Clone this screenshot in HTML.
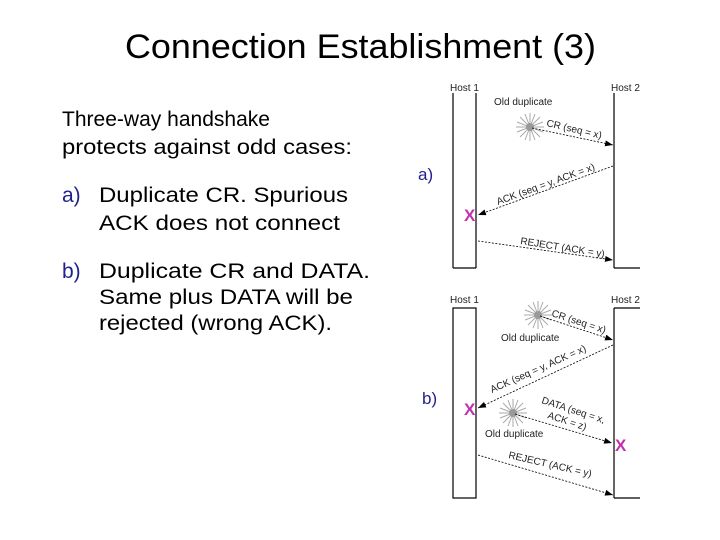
<!DOCTYPE html>
<html><head><meta charset="utf-8"><style>
html,body{margin:0;padding:0;background:#fff;}
svg{display:block;font-family:"Liberation Sans",Arial,sans-serif;}
</style></head><body>
<svg width="720" height="540" viewBox="0 0 720 540">
<defs>
<marker id="ah" markerWidth="8" markerHeight="6" refX="8" refY="3" orient="auto" markerUnits="userSpaceOnUse">
<path d="M0,0 L8,3 L0,6 z" fill="#000"/></marker>
<g id="star">
<g stroke="#aaa" stroke-width="1">
<line x1="-14" y1="0" x2="14" y2="0"/><line x1="0" y1="-14" x2="0" y2="14"/>
<line x1="-10" y1="-10" x2="10" y2="10"/><line x1="-10" y1="10" x2="10" y2="-10"/>
<line x1="-13" y1="-5" x2="13" y2="5"/><line x1="-13" y1="5" x2="13" y2="-5"/>
<line x1="-5" y1="-13" x2="5" y2="13"/><line x1="5" y1="-13" x2="-5" y2="13"/>
</g><circle r="4" fill="#999"/></g>
</defs>
<text x="125" y="58" font-size="34" textLength="471" lengthAdjust="spacingAndGlyphs">Connection Establishment (3)</text>
<g font-size="21">
<text x="62" y="126" textLength="208" lengthAdjust="spacingAndGlyphs">Three-way handshake</text>
<text x="62" y="154" textLength="290" lengthAdjust="spacingAndGlyphs">protects against odd cases:</text>
<text x="62" y="202" fill="#1f1f8f">a)</text>
<text x="99" y="202" textLength="249" lengthAdjust="spacingAndGlyphs">Duplicate CR. Spurious</text>
<text x="99" y="230" textLength="241" lengthAdjust="spacingAndGlyphs">ACK does not connect</text>
<text x="62" y="278" fill="#1f1f8f">b)</text>
<text x="99" y="278" textLength="271" lengthAdjust="spacingAndGlyphs">Duplicate CR and DATA.</text>
<text x="99" y="304" textLength="254" lengthAdjust="spacingAndGlyphs">Same plus DATA will be</text>
<text x="99" y="330" textLength="233" lengthAdjust="spacingAndGlyphs">rejected (wrong ACK).</text>
<text x="418" y="180" fill="#1f1f8f" font-size="17">a)</text>
<text x="422" y="404" fill="#1f1f8f" font-size="17">b)</text>
</g>
<!-- diagram a -->
<g stroke="#000" stroke-width="1.2" fill="none">
<line x1="453" y1="93" x2="453" y2="268"/><line x1="476" y1="93" x2="476" y2="268"/>
<line x1="453" y1="268" x2="476" y2="268"/>
<line x1="614" y1="93" x2="614" y2="268"/><line x1="614" y1="268" x2="640" y2="268"/>
</g>
<g font-size="10" fill="#222">
<text x="450" y="91">Host 1</text><text x="611" y="91">Host 2</text>
<text x="494" y="105">Old duplicate</text>
<text transform="translate(546,126) rotate(13)">CR (seq = x)</text>
<text transform="translate(498,205) rotate(-20)">ACK (seq = y, ACK = x)</text>
<text transform="translate(520,244) rotate(9)">REJECT (ACK = y)</text>
</g>
<use href="#star" x="530" y="127"/>
<g stroke="#000" stroke-width="0.8" stroke-dasharray="2,1.5" marker-end="url(#ah)">
<line x1="532" y1="128" x2="613" y2="145"/>
<line x1="613" y1="166" x2="478" y2="215"/>
<line x1="478" y1="241" x2="613" y2="260"/>
</g>
<text x="464" y="221" fill="#c030b0" font-size="17" font-weight="bold">X</text>
<!-- diagram b -->
<g stroke="#000" stroke-width="1.2" fill="none">
<rect x="453" y="308" width="23" height="190"/>
<line x1="614" y1="308" x2="640" y2="308"/><line x1="614" y1="308" x2="614" y2="498"/><line x1="614" y1="498" x2="640" y2="498"/>
</g>
<g font-size="10" fill="#222">
<text x="450" y="303">Host 1</text><text x="611" y="303">Host 2</text>
<text x="501" y="341">Old duplicate</text>
<text x="485" y="437">Old duplicate</text>
<text transform="translate(551,316) rotate(18)">CR (seq = x)</text>
<text transform="translate(492,393) rotate(-24)">ACK (seq = y, ACK = x)</text>
<text transform="translate(541,403) rotate(18)">DATA (seq = x,</text>
<text transform="translate(547,418) rotate(18)">ACK = z)</text>
<text transform="translate(508,458) rotate(13)">REJECT (ACK = y)</text>
</g>
<use href="#star" x="538" y="315"/>
<use href="#star" x="513" y="413"/>
<g stroke="#000" stroke-width="0.8" stroke-dasharray="2,1.5" marker-end="url(#ah)">
<line x1="540" y1="316" x2="613" y2="340"/>
<line x1="613" y1="345" x2="478" y2="408"/>
<line x1="515" y1="414" x2="612" y2="443"/>
<line x1="478" y1="455" x2="613" y2="495"/>
</g>
<text x="464" y="415" fill="#c030b0" font-size="17" font-weight="bold">X</text>
<text x="615" y="451" fill="#c030b0" font-size="17" font-weight="bold">X</text>
</svg>
</body></html>
